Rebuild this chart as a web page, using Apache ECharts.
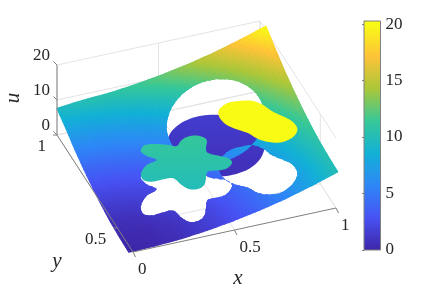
<!DOCTYPE html>
<html><head><meta charset="utf-8">
<style>html,body{margin:0;padding:0;background:#fff}#c{width:436px;height:291px}</style>
<script src="https://cdn.jsdelivr.net/npm/echarts@6/dist/echarts.min.js"></script>
</head><body><div id="c"></div>
<script>
// ---------- data ----------
const xTicks = [0, 0.5, 1];
const yTicks = [0.5, 1];
const uTicks = [0, 10, 20];
const colorbarTicks = [0, 5, 10, 15, 20];
const colorbarRange = [0, 20.27];
const yLimits = [0.37, 1];
// surface nodes, as fractions of the x and y axis spans
const surfX = [-0.018, 0.11, 0.239, 0.368, 0.496, 0.625, 0.753, 0.882, 1.01];
const surfY = [0.006, 0.124, 0.242, 0.36, 0.478, 0.596, 0.714, 0.832, 0.95];
const surfU = [
 [0,0.2,0.6,1.4,2.5,3.9,5.6,7.7,10],
 [0.2,0.3,0.8,1.6,2.7,4.1,5.8,7.8,10.2],
 [0.6,0.8,1.3,2,3.1,4.5,6.3,8.3,10.6],
 [1.4,1.6,2,2.8,3.9,5.3,7,9.1,11.4],
 [2.5,2.7,3.1,3.9,5,6.4,8.1,10.2,12.5],
 [3.9,4.1,4.5,5.3,6.4,7.8,9.5,11.6,13.9],
 [5.6,5.8,6.3,7,8.1,9.5,11.3,13.3,15.6],
 [7.7,7.8,8.3,9.1,10.2,11.6,13.3,15.3,17.7],
 [9.5,10.2,10.6,11.4,12.5,13.9,15.6,17.7,20]
];
// inclusion outlines in axis fractions
const starOutline = [[.2244,.4849],[.2479,.5042],[.2939,.4955],[.3485,.4664],[.382,.4452],[.4204,.4821],[.4674,.4986],[.5106,.4823],[.5283,.4415],[.502,.3804],[.4975,.342],[.5409,.3],[.5698,.272],[.5731,.2281],[.5252,.1923],[.4556,.2039],[.435,.192],[.3996,.1198],[.3639,.0905],[.318,.0992],[.2942,.1449],[.2767,.2088],[.2307,.2175],[.1739,.2184],[.1424,.2448],[.1512,.2987],[.1991,.3516],[.2563,.3728],[.2244,.419],[.2118,.4605]];
const blobOutline = [[.5655,.3882],[.5942,.4201],[.6424,.4396],[.7043,.43],[.7467,.4115],[.7786,.3653],[.7981,.3067],[.8281,.2553],[.8564,.1993],[.8601,.1355],[.8314,.0891],[.7884,.0625],[.7377,.0585],[.6904,.0848],[.6567,.1265],[.6345,.1776],[.5956,.2264],[.5645,.2749],[.5543,.336]];
const discOutline = [[.862,.615],[.845,.701],[.796,.774],[.723,.823],[.637,.84],[.551,.823],[.478,.774],[.429,.701],[.412,.615],[.429,.529],[.478,.456],[.551,.407],[.637,.39],[.723,.407],[.796,.456],[.845,.529]];
const discHeights = [1.85,2.2,2.45,2.6,2.7,2.6,2.45,2.2,1.85,1.5,1.25,1.05,1,1.05,1.25,1.5];
const discShade = [1.4, 0.6];
const starHeight = 10.6;
const starShade = [11.3, 9.9];
const blobHeight = 20;
const parula = [[62,38,168],[72,82,244],[46,135,247],[18,177,214],[55,200,151],[171,199,57],[254,195,56],[249,251,21]];

// ---------- view of the 3-D box (orthographic) ----------
const view = {ox: 133, oy: 252, ex: [203, -44], ey: [-76, -117], ez: [0, -3.5]};
const GREY = '#808080', GRID = '#e4e4e4', INK = '#262626', SERIF = '"Liberation Serif","DejaVu Serif",serif';

function project(fx, fy, u) {
  return [view.ox + fx * view.ex[0] + fy * view.ey[0] + u * view.ez[0],
          view.oy + fx * view.ex[1] + fy * view.ey[1] + u * view.ez[1]];
}
const yFrac = y => (y - yLimits[0]) / (yLimits[1] - yLimits[0]);
function colorOf(u) {
  const t = Math.max(0, Math.min(1, u / 20)) * (parula.length - 1);
  const i = Math.min(parula.length - 2, Math.floor(t)), f = t - i;
  const a = parula[i], b = parula[i + 1];
  return 'rgb(' + [0, 1, 2].map(k => Math.round(a[k] + (b[k] - a[k]) * f)).join(',') + ')';
}
function surfaceAt(fx, fy) {
  const locate = (arr, v) => {
    let i = 0;
    while (i < arr.length - 2 && v > arr[i + 1]) i++;
    return [i, (v - arr[i]) / (arr[i + 1] - arr[i])];
  };
  const [i, a] = locate(surfX, fx), [j, b] = locate(surfY, fy);
  return (1 - b) * ((1 - a) * surfU[j][i] + a * surfU[j][i + 1]) + b * ((1 - a) * surfU[j + 1][i] + a * surfU[j + 1][i + 1]);
}
// closed smooth curve through the outline vertices (rendering only)
function smoothClosed(pts) {
  const n = pts.length, out = [];
  for (let i = 0; i < n; i++) {
    const p0 = pts[(i + n - 1) % n], p1 = pts[i], p2 = pts[(i + 1) % n], p3 = pts[(i + 2) % n];
    for (let s = 0; s < 6; s++) {
      const t = s / 6, t2 = t * t, t3 = t2 * t;
      out.push(p1.map((_, k) => 0.5 * (2 * p1[k] + (p2[k] - p0[k]) * t + (2 * p0[k] - 5 * p1[k] + 4 * p2[k] - p3[k]) * t2 + (3 * p1[k] - p0[k] - 3 * p2[k] + p3[k]) * t3)));
    }
  }
  return out;
}
const shade = pair => ({type: 'linear', x: 0, y: 0, x2: 0, y2: 1, colorStops: [{offset: 0, color: colorOf(pair[0])}, {offset: 1, color: colorOf(pair[1])}]});
const once = (name, fn) => ({type: 'custom', name, coordinateSystem: 'cartesian2d', xAxisIndex: 0, yAxisIndex: 0, silent: true, animation: false, data: [[0]], renderItem: (p, api) => fn(api)});
const line = (api, a, b, color) => {
  const s = api.coord(a), e = api.coord(b);
  return {type: 'line', shape: {x1: s[0], y1: s[1], x2: e[0], y2: e[1]}, style: {stroke: color, lineWidth: 1, fill: null}};
};
const label = (api, text, pos, size, align, italic, rotation) => {
  const c = api.coord(pos);
  return {type: 'text', x: c[0], y: c[1], rotation: rotation || 0, style: {text, x: 0, y: 0, fill: INK, font: (italic ? 'italic ' : '') + size + 'px ' + SERIF, align, verticalAlign: 'middle', textAlign: align, textVerticalAlign: 'middle'}};
};

function renderGrid(api) {
  const ch = [];
  const uTop = uTicks[uTicks.length - 1];
  uTicks.forEach(u => {
    ch.push(line(api, project(0, 1, u), project(1, 1, u), GRID));
    ch.push(line(api, project(1, 1, u), project(1, 0, u), GRID));
  });
  xTicks.forEach(x => {
    ch.push(line(api, project(x, 0, 0), project(x, 1, 0), GRID));
    ch.push(line(api, project(x, 1, 0), project(x, 1, uTop), GRID));
  });
  yTicks.forEach(y => {
    const f = yFrac(y);
    ch.push(line(api, project(0, f, 0), project(1, f, 0), GRID));
    ch.push(line(api, project(1, f, 0), project(1, f, uTop), GRID));
  });
  return {type: 'group', children: ch};
}
function renderDisc(api) {
  const pts = smoothClosed(discOutline.map((p, i) => [p[0], p[1], discHeights[i]])).map(p => api.coord(project(p[0], p[1], p[2])));
  return {type: 'polygon', shape: {points: pts}, style: {fill: shade(discShade)}};
}
function holePath(api, outline) {
  const pts = smoothClosed(outline).map(p => api.coord(project(p[0], p[1], surfaceAt(p[0], p[1]))));
  let area = 0;
  pts.forEach((p, i) => { const q = pts[(i + 1) % pts.length]; area += p[0] * q[1] - q[0] * p[1]; });
  if (area > 0) pts.reverse();
  return 'M' + pts.map(p => p[0].toFixed(2) + ' ' + p[1].toFixed(2)).join('L') + 'Z';
}
function renderSurface(api) {
  const ch = [], SUB = 6;
  const nx = surfX.length, ny = surfY.length;
  const node = (i, a, j, b) => {
    const fx = surfX[i] + a * (surfX[i + 1] - surfX[i]), fy = surfY[j] + b * (surfY[j + 1] - surfY[j]);
    const u = (1 - b) * ((1 - a) * surfU[j][i] + a * surfU[j][i + 1]) + b * ((1 - a) * surfU[j + 1][i] + a * surfU[j + 1][i + 1]);
    return {p: api.coord(project(fx, fy, u)), u};
  };
  for (let j = 0; j < ny - 1; j++) for (let i = 0; i < nx - 1; i++)
    for (let b = 0; b < SUB; b++) for (let a = 0; a < SUB; a++) {
      const A = node(i, a / SUB, j, b / SUB), B = node(i, (a + 1) / SUB, j, b / SUB), C = node(i, (a + 1) / SUB, j, (b + 1) / SUB), D = node(i, a / SUB, j, (b + 1) / SUB);
      const col = colorOf((A.u + B.u + C.u + D.u) / 4);
      ch.push({type: 'polygon', shape: {points: [A.p, B.p, C.p, D.p]}, style: {fill: col, stroke: col, lineWidth: 1.4, lineJoin: 'round'}});
    }
  const c0 = api.coord([0, 0]), c1 = api.coord([436, 291]);
  const outer = `M${c0[0]} ${c0[1]}L${c1[0]} ${c0[1]}L${c1[0]} ${c1[1]}L${c0[0]} ${c1[1]}Z`;
  const d = outer + holePath(api, discOutline) + holePath(api, starOutline) + holePath(api, blobOutline);
  return {type: 'group', clipPath: {type: 'path', shape: {pathData: d}}, children: ch};
}
function renderPatch(api, outline, height, fill) {
  const pts = smoothClosed(outline).map(p => api.coord(project(p[0], p[1], height)));
  return {type: 'polygon', shape: {points: pts}, style: {fill}};
}
function renderAxes(api) {
  const ch = [];
  const uTop = uTicks[uTicks.length - 1];
  ch.push(line(api, project(0, 0, 0), project(1, 0, 0), GREY));
  ch.push(line(api, project(0, 0, 0), project(0, 1, 0), GREY));
  ch.push(line(api, project(0, 1, 0), project(0, 1, uTop), GREY));
  xTicks.forEach(x => {
    const p = project(x, 0, 0);
    ch.push(line(api, p, [p[0] + 2.5, p[1] + 5], GREY));
    ch.push(label(api, String(x), [p[0] + 5, p[1] + 18], 17, 'left'));
  });
  yTicks.forEach(y => {
    const p = project(0, yFrac(y), 0);
    ch.push(line(api, p, [p[0] - 4, p[1]], GREY));
    ch.push(label(api, String(y), [p[0] - 11, p[1] + 12], 17, 'right'));
  });
  uTicks.forEach(u => {
    const p = project(0, 1, u);
    ch.push(line(api, p, [p[0] - 3.5, p[1] - 3.5], GREY));
    ch.push(label(api, String(u), [p[0] - 7, p[1] - 9.5], 17, 'right'));
  });
  ch.push(label(api, 'x', [238, 278], 21, 'center', true));
  ch.push(label(api, 'y', [57, 261], 21, 'center', true));
  ch.push(label(api, 'u', [13, 98], 21, 'center', true, Math.PI / 2));
  return {type: 'group', children: ch};
}

const chart = echarts.init(document.getElementById('c'), null, {renderer: 'canvas'});
chart.setOption({
  animation: false,
  backgroundColor: '#fff',
  grid: [
    {left: 0, top: 0, width: 436, height: 291, containLabel: false},
    {left: 364, top: 21, width: 16.5, height: 229, show: true, borderColor: GREY, borderWidth: 1, backgroundColor: 'transparent', z: 5}
  ],
  xAxis: [
    {type: 'value', gridIndex: 0, min: 0, max: 436, show: false},
    {type: 'value', gridIndex: 1, min: 0, max: 1, show: false}
  ],
  yAxis: [
    {type: 'value', gridIndex: 0, min: 0, max: 291, inverse: true, show: false},
    {type: 'value', gridIndex: 1, min: colorbarRange[0], max: colorbarRange[1], position: 'right',
     axisLine: {show: true, lineStyle: {color: GREY}},
     axisTick: {show: true, inside: true, length: 2, lineStyle: {color: GREY}, customValues: colorbarTicks},
     splitLine: {show: false},
     axisLabel: {margin: 5, color: INK, fontFamily: 'Liberation Serif', fontSize: 17, customValues: colorbarTicks}}
  ],
  series: [
    once('grid', renderGrid),
    once('disc', renderDisc),
    once('surface', renderSurface),
    once('star', api => renderPatch(api, starOutline, starHeight, shade(starShade))),
    once('blob', api => renderPatch(api, blobOutline, blobHeight, colorOf(blobHeight))),
    once('axes', renderAxes),
    {type: 'custom', name: 'colorbar', coordinateSystem: 'cartesian2d', xAxisIndex: 1, yAxisIndex: 1, silent: true, animation: false,
     data: [[colorbarRange[0], colorbarRange[1]]],
     renderItem: (p, api) => {
       const a = api.coord([0, api.value(0)]), b = api.coord([1, api.value(1)]);
       const n = parula.length - 1, top = api.value(1), stops = parula.map((c, i) => ({offset: Math.min(1, i / n * 20 / top), color: 'rgb(' + c.join(',') + ')'}));
       return {type: 'rect', shape: {x: a[0], y: b[1], width: b[0] - a[0], height: a[1] - b[1]},
               style: {fill: {type: 'linear', x: 0, y: 1, x2: 0, y2: 0, colorStops: stops}}};
     }}
  ]
});
</script></body></html>
